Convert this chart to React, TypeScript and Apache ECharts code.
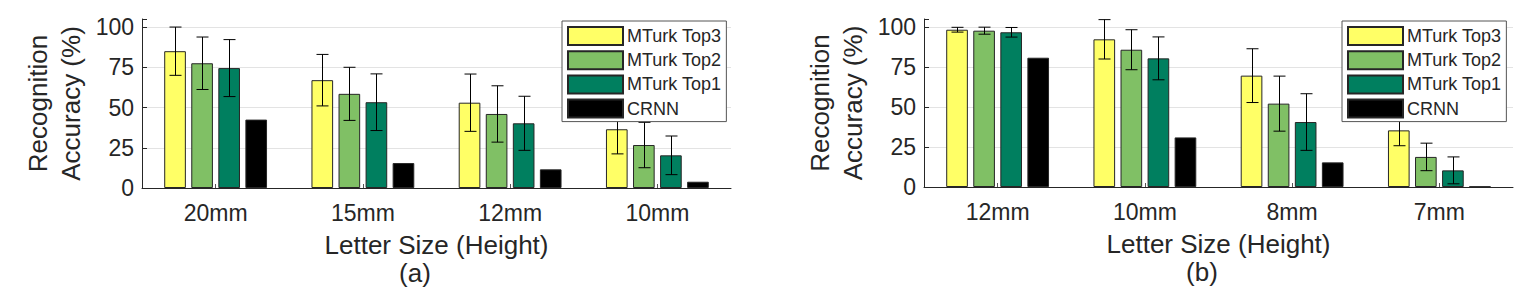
import React, { useEffect, useRef } from "react";
import * as echarts from "echarts";

const seriesNames = ["MTurk Top3", "MTurk Top2", "MTurk Top1", "CRNN"];
const seriesColors = ["#FFFF66", "#80C065", "#007F5F", "#000000"];

const categoriesA = ["20mm", "15mm", "12mm", "10mm"];
const top3A = [85, 67, 53, 36.5];
const top3ErrA = [15, 16, 17.8, 15.3];
const top2A = [77.5, 58.5, 46, 26.7];
const top2ErrA = [16.3, 16.5, 17.5, 14.1];
const top1A = [74.5, 53.3, 40.2, 20.3];
const top1ErrA = [17.7, 17.6, 16.8, 12];
const crnnA = [42.5, 15.5, 11.6, 3.9];

const categoriesB = ["12mm", "10mm", "8mm", "7mm"];
const top3B = [98.3, 92.3, 69.6, 35.4];
const top3ErrB = [1.5, 12.3, 16.8, 9.6];
const top2B = [97.7, 85.8, 52.1, 18.8];
const top2ErrB = [2.2, 12.5, 17.2, 8.6];
const top1B = [96.7, 80.4, 40.6, 10.4];
const top1ErrB = [3, 13.4, 17.7, 8.4];
const crnnB = [80.8, 31, 15.4, 0.3];

const yTicks = [0, 25, 50, 75, 100];
const xName = "Letter Size (Height)";
const yName = "Recognition\nAccuracy (%)";
const panelLabels = ["(a)", "(b)"];

const FONT = "'Liberation Sans', Arial, sans-serif";
const TXT = "#262626";
const BAR_FRAC = 0.147;
const BAR_GAP = 0.25;

function errSeries(grid: number, k: number, vals: number[], errs: number[]) {
  return {
    type: "custom",
    xAxisIndex: grid,
    yAxisIndex: grid,
    z: 5,
    silent: true,
    encode: { x: 0, y: [1, 2] },
    data: vals.map((v, i) => [i, v - errs[i], v + errs[i]]),
    renderItem: (params: any, api: any) => {
      const c = api.value(0);
      const pLo = api.coord([c, api.value(1)]);
      const pHi = api.coord([c, api.value(2)]);
      const band = api.size([1, 0])[0];
      const w = band * BAR_FRAC;
      const gap = w * BAR_GAP;
      const groupW = 4 * w + 3 * gap;
      const x = Math.round(pLo[0] - groupW / 2 + w / 2 + k * (w + gap)) + 0.5;
      const cap = 6;
      const st = { stroke: "#000", lineWidth: 1 };
      return {
        type: "group",
        children: [
          { type: "line", shape: { x1: x, y1: pLo[1], x2: x, y2: pHi[1] }, style: st },
          { type: "line", shape: { x1: x - cap, y1: pLo[1], x2: x + cap, y2: pLo[1] }, style: st },
          { type: "line", shape: { x1: x - cap, y1: pHi[1], x2: x + cap, y2: pHi[1] }, style: st },
        ],
      };
    },
  };
}

function barSeries(grid: number, k: number, vals: number[]) {
  return {
    type: "bar",
    name: seriesNames[k],
    xAxisIndex: grid,
    yAxisIndex: grid,
    data: vals,
    barWidth: (BAR_FRAC * 100).toFixed(1) + "%",
    barGap: BAR_GAP * 100 + "%",
    itemStyle: { color: seriesColors[k], borderColor: "#262626", borderWidth: 1 },
  };
}

function xAxisOpt(grid: number, cats: string[]) {
  return {
    type: "category",
    gridIndex: grid,
    data: cats,
    axisLine: { lineStyle: { color: TXT, width: 1 } },
    axisTick: { show: true, inside: true, alignWithLabel: true, length: 4, lineStyle: { color: "#555" } },
    axisLabel: { fontSize: 23, color: TXT, fontFamily: FONT, margin: 13 },
    name: xName,
    nameLocation: "middle",
    nameGap: 45,
    nameTextStyle: { fontSize: 26, color: TXT, fontFamily: FONT, lineHeight: 24 },
  };
}

function yAxisOpt(grid: number) {
  return {
    type: "value",
    gridIndex: grid,
    min: 0,
    max: 105,
    interval: 25,
    axisLine: { show: true, lineStyle: { color: TXT, width: 1 } },
    axisTick: { show: true, inside: true, length: 5, lineStyle: { color: TXT } },
    axisLabel: {
      fontSize: 23,
      color: TXT,
      fontFamily: FONT,
      margin: 8,
      formatter: (v: number) => (yTicks.indexOf(v) >= 0 ? String(v) : ""),
    },
    splitLine: {
      show: true,
      lineStyle: {
        color: ["#e3e3e3", "#e3e3e3", "#e3e3e3", "#e3e3e3", "#e3e3e3", "rgba(0,0,0,0)"],
        width: 1,
      },
    },
    name: yName,
    nameLocation: "middle",
    nameGap: 55,
    nameRotate: 90,
    nameTextStyle: { fontSize: 26, color: TXT, fontFamily: FONT, lineHeight: 33 },
  };
}

function legendOpt(left: number) {
  return {
    orient: "vertical",
    left,
    top: 21,
    data: seriesNames,
    icon: "rect",
    itemWidth: 55,
    itemHeight: 18,
    itemGap: 4.2,
    padding: [5, 5, 3, 5],
    borderColor: "#555",
    borderWidth: 1,
    backgroundColor: "#fff",
    selectedMode: false,
    textStyle: { fontSize: 18, color: TXT, fontFamily: FONT, padding: [0, 0, 0, -1] },
    z: 10,
  };
}

export default function App() {
  const ref = useRef<HTMLDivElement>(null);
  useEffect(() => {
    document.body.style.margin = "0";
    const chart = echarts.init(ref.current!, null, { renderer: "svg" });
    const dataA = [top3A, top2A, top1A, crnnA];
    const dataB = [top3B, top2B, top1B, crnnB];
    const errA = [
      [top3A, top3ErrA],
      [top2A, top2ErrA],
      [top1A, top1ErrA],
    ];
    const errB = [
      [top3B, top3ErrB],
      [top2B, top2ErrB],
      [top1B, top1ErrB],
    ];
    const series: any[] = [];
    dataA.forEach((d, k) => series.push(barSeries(0, k, d)));
    dataB.forEach((d, k) => series.push(barSeries(1, k, d)));
    errA.forEach(([v, e], k) => series.push(errSeries(0, k, v, e)));
    errB.forEach(([v, e], k) => series.push(errSeries(1, k, v, e)));

    const labelStyle = (t: string) => ({
      text: t,
      fontSize: 26,
      fontFamily: FONT,
      lineHeight: 22,
      fill: TXT,
      align: "center",
      verticalAlign: "middle",
    });

    chart.setOption({
      animation: false,
      backgroundColor: "#fff",
      textStyle: { fontFamily: FONT },
      grid: [
        { left: 142, top: 19, width: 589, height: 169 },
        { left: 924, top: 19, width: 589, height: 168 },
      ],
      xAxis: [xAxisOpt(0, categoriesA), xAxisOpt(1, categoriesB)],
      yAxis: [yAxisOpt(0), yAxisOpt(1)],
      legend: [legendOpt(562), legendOpt(1342)],
      series,
      graphic: [
        { type: "text", x: 415, y: 272.5, style: labelStyle(panelLabels[0]) },
        { type: "text", x: 1202, y: 271.5, style: labelStyle(panelLabels[1]) },
      ],
    });
    return () => chart.dispose();
  }, []);
  return <div ref={ref} style={{ width: 1532, height: 302 }} />;
}
